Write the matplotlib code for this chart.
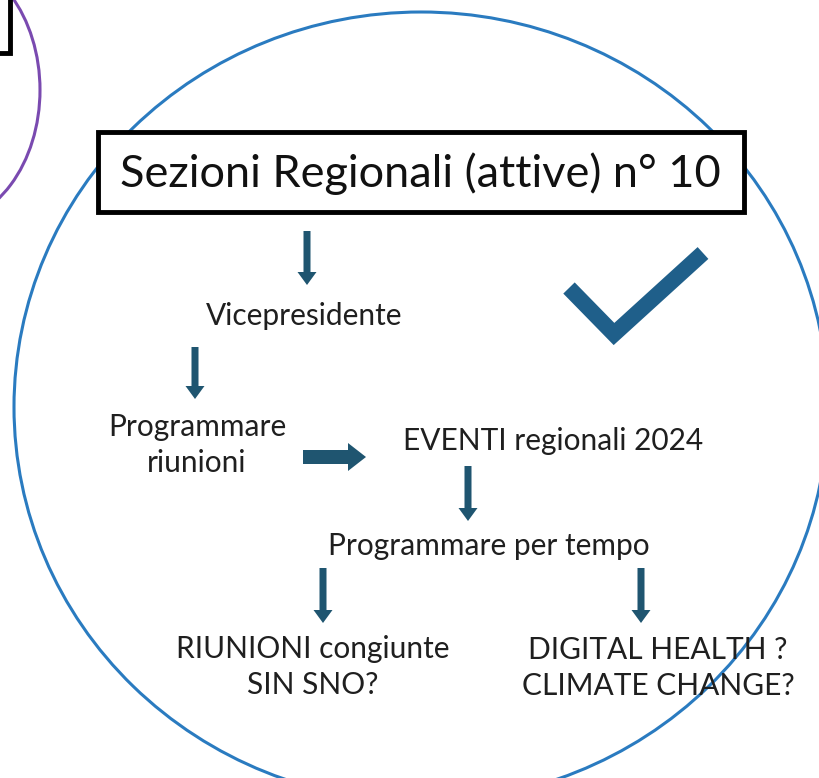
import matplotlib
matplotlib.use("Agg")
import matplotlib.pyplot as plt
from matplotlib.patches import Ellipse, Rectangle, FancyArrow

title = "Sezioni Regionali (attive) n° 10"
labels = ["Vicepresidente", "Programmare\nriunioni", "EVENTI regionali 2024",
          "Programmare per tempo", "RIUNIONI congiunte\nSIN SNO?",
          "DIGITAL HEALTH ?\nCLIMATE CHANGE?"]
label_xy = [(304, 316), (197, 445), (553, 441), (489, 546), (313, 667), (658, 668)]
down_arrows = [(307, 231, 285), (195, 347, 399), (468, 466, 521), (323, 568, 623), (641, 568, 623)]

arrow_c = "#1f5570"
check_c = "#1f5f8a"

fig = plt.figure(figsize=(8.2, 7.78), dpi=100)
ax = fig.add_axes([0, 0, 1, 1])
ax.set_xlim(0, 820)
ax.set_ylim(778, 0)
ax.axis("off")

# big blue circle and purple one at top left
ax.add_patch(Ellipse((421, 407), 814, 790, fill=False, ec="#2a7bc0", lw=2.2))
ax.add_patch(Ellipse((-60, 90), 200, 268, fill=False, ec="#7a4ab0", lw=2.2))
ax.add_patch(Rectangle((-20, -20), 30, 73, fill=False, ec="black", lw=3.5))

# title box
ax.add_patch(Rectangle((98, 132), 646, 80, fc="white", ec="black", lw=3.5, zorder=3))
ax.text(420, 174, title, ha="center", va="center", fontsize=32.5, family="Lato", color="#111111", zorder=4)

for (x, y0, y1) in down_arrows:
    ax.add_patch(FancyArrow(x, y0, 0, y1 - y0, width=7, head_width=19, head_length=13,
                            length_includes_head=True, color=arrow_c, lw=0))

ax.add_patch(FancyArrow(303, 457, 63, 0, width=14, head_width=28, head_length=18,
                        length_includes_head=True, color=arrow_c, lw=0))

for t, (x, y) in zip(labels, label_xy):
    ax.text(x, y, t, ha="center", va="center", fontsize=21.5, family="Lato",
            color="#1f1f1f", linespacing=1.38)

# checkmark
ax.plot([569, 614, 703], [288, 334, 253], color=check_c, lw=11.5,
        solid_capstyle="butt", solid_joinstyle="miter")

fig.savefig("out.png", dpi=100)
